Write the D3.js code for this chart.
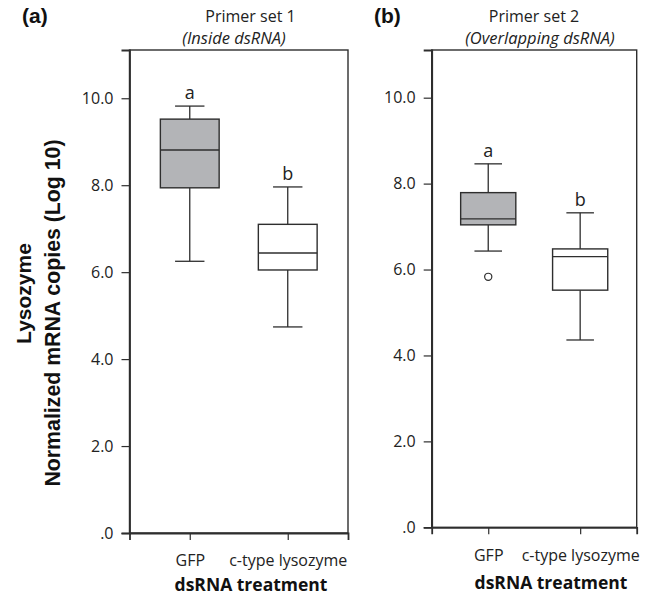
<!DOCTYPE html>
<html><head><meta charset="utf-8">
<script src="https://cdn.jsdelivr.net/npm/d3@7"></script>
<style>
html,body{margin:0;padding:0;background:#fff;}
svg{display:block;}
</style></head>
<body>
<svg id="chart" width="659" height="595"></svg>
<script>
// ---- data ----
const categories = ["GFP", "c-type lysozyme"];
const yTicks = [0, 2, 4, 6, 8, 10];
const yMax = 11.11;
// Panel (a) Primer set 1
const aMin    = [6.25, 4.74];
const aQ1     = [7.94, 6.05];
const aMedian = [8.81, 6.44];
const aQ3     = [9.52, 7.10];
const aMax    = [9.82, 7.96];
const aLetters = ["a", "b"];
const aOutlierCats = [];
const aOutlierVals = [];
// Panel (b) Primer set 2
const bMin    = [6.43, 4.36];
const bQ1     = [7.04, 5.52];
const bMedian = [7.18, 6.30];
const bQ3     = [7.79, 6.48];
const bMax    = [8.46, 7.32];
const bLetters = ["a", "b"];
const bOutlierCats = ["GFP"];
const bOutlierVals = [5.83];
const fills = ["#b3b4b7", "#ffffff"];

const svg = d3.select("#chart");
const FONT = "'Open Sans', sans-serif";
const LINE = "#2e2e2e";

function panel(cfg) {
  const x = d3.scalePoint().domain(categories).range([cfg.left, cfg.right]).padding(0.615);
  const y = d3.scaleLinear().domain([0, yMax]).range([cfg.bottom, cfg.top]);
  const step = x.step();
  const bw = step * 0.6, cw = step * 0.3;
  const g = svg.append("g");

  // frame
  g.append("rect").attr("x", cfg.left).attr("y", cfg.top)
    .attr("width", cfg.right - cfg.left).attr("height", cfg.bottom - cfg.top)
    .attr("fill", "none").attr("stroke", LINE).attr("stroke-width", 1.4);

  // y axis
  const yAxis = d3.axisLeft(y).tickValues(yTicks).tickSize(8).tickPadding(8)
    .tickFormat(d => d === 0 ? ".0" : d.toFixed(1));
  const ya = g.append("g").attr("transform", `translate(${cfg.left},0)`).call(yAxis);
  ya.select(".domain").attr("stroke", LINE).attr("stroke-width", 1.8);
  ya.selectAll(".tick line").attr("stroke", LINE).attr("stroke-width", 1.2);
  ya.selectAll(".tick text").attr("font-family", FONT).attr("font-size", 16).attr("fill", "#222");

  // x axis
  const xAxis = d3.axisBottom(x).tickSize(7).tickPadding(15);
  const xa = g.append("g").attr("transform", `translate(0,${cfg.bottom})`).call(xAxis);
  xa.select(".domain").attr("stroke", LINE).attr("stroke-width", 1.8);
  xa.selectAll(".tick line").attr("stroke", LINE).attr("stroke-width", 1.2);
  xa.selectAll(".tick text").attr("font-family", FONT).attr("font-size", 16).attr("fill", "#222");

  const d = categories.map((c, i) => ({c, i, min: cfg.min[i], q1: cfg.q1[i], med: cfg.med[i], q3: cfg.q3[i], max: cfg.max[i], letter: cfg.letters[i]}));
  const bx = g.selectAll(".bx").data(d).enter().append("g");
  // whiskers
  bx.append("line").attr("x1", e => x(e.c)).attr("x2", e => x(e.c))
    .attr("y1", e => y(e.max)).attr("y2", e => y(e.q3)).attr("stroke", LINE).attr("stroke-width", 1.3);
  bx.append("line").attr("x1", e => x(e.c)).attr("x2", e => x(e.c))
    .attr("y1", e => y(e.q1)).attr("y2", e => y(e.min)).attr("stroke", LINE).attr("stroke-width", 1.3);
  bx.append("line").attr("x1", e => x(e.c) - cw / 2).attr("x2", e => x(e.c) + cw / 2)
    .attr("y1", e => y(e.max)).attr("y2", e => y(e.max)).attr("stroke", LINE).attr("stroke-width", 1.3);
  bx.append("line").attr("x1", e => x(e.c) - cw / 2).attr("x2", e => x(e.c) + cw / 2)
    .attr("y1", e => y(e.min)).attr("y2", e => y(e.min)).attr("stroke", LINE).attr("stroke-width", 1.3);
  // box
  bx.append("rect").attr("x", e => x(e.c) - bw / 2).attr("width", bw)
    .attr("y", e => y(e.q3)).attr("height", e => y(e.q1) - y(e.q3))
    .attr("fill", e => fills[e.i]).attr("stroke", LINE).attr("stroke-width", 1.4);
  bx.append("line").attr("x1", e => x(e.c) - bw / 2).attr("x2", e => x(e.c) + bw / 2)
    .attr("y1", e => y(e.med)).attr("y2", e => y(e.med)).attr("stroke", LINE).attr("stroke-width", 1.4);
  // letters
  bx.append("text").attr("x", e => x(e.c)).attr("y", e => y(e.max) - 7)
    .attr("text-anchor", "middle").attr("font-family", FONT).attr("font-size", 18).attr("fill", "#222")
    .text(e => e.letter);
  // outliers
  g.selectAll(".out").data(cfg.outCats.map((c, i) => ({c, v: cfg.outVals[i]}))).enter()
    .append("circle").attr("cx", e => x(e.c)).attr("cy", e => y(e.v)).attr("r", 3.6)
    .attr("fill", "#fff").attr("stroke", LINE).attr("stroke-width", 1.2);

  // titles
  g.append("text").attr("x", cfg.tagX).attr("y", 23).attr("font-family", "'Liberation Sans', Arial, sans-serif")
    .attr("font-weight", "bold").attr("font-size", 21).attr("fill", "#111").text(cfg.tag);
  g.append("text").attr("x", cfg.t1X).attr("y", 22).attr("text-anchor", "middle")
    .attr("font-family", FONT).attr("font-size", 16).attr("fill", "#222").text(cfg.title1);
  g.append("text").attr("x", cfg.t2X).attr("y", 44).attr("text-anchor", "middle")
    .attr("font-family", FONT).attr("font-style", "italic").attr("font-size", 16.5).attr("fill", "#222").text(cfg.title2);
  g.append("text").attr("x", cfg.xlX).attr("y", cfg.xlY).attr("text-anchor", "middle")
    .attr("font-family", FONT).attr("font-weight", "bold").attr("font-size", 17.5).attr("fill", "#111").text("dsRNA treatment");
}

panel({left: 129.5, right: 348, top: 50, bottom: 533,
  min: aMin, q1: aQ1, med: aMedian, q3: aQ3, max: aMax, letters: aLetters,
  outCats: aOutlierCats, outVals: aOutlierVals,
  tag: "(a)", tagX: 22, title1: "Primer set 1", t1X: 250.5, title2: "(Inside dsRNA)", t2X: 234,
  xlX: 251, xlY: 591});
panel({left: 431.7, right: 636.7, top: 50, bottom: 527.3,
  min: bMin, q1: bQ1, med: bMedian, q3: bQ3, max: bMax, letters: bLetters,
  outCats: bOutlierCats, outVals: bOutlierVals,
  tag: "(b)", tagX: 374, title1: "Primer set 2", t1X: 534, title2: "(Overlapping dsRNA)", t2X: 540,
  xlX: 551, xlY: 589});

// y label
svg.append("text").attr("transform", "translate(31,293.5) rotate(-90)").attr("text-anchor", "middle")
  .attr("font-family", "'Liberation Sans', Arial, sans-serif").attr("font-weight", "bold").attr("font-size", 21)
  .attr("fill", "#111").text("Lysozyme");
svg.append("text").attr("transform", "translate(60,313) rotate(-90)").attr("text-anchor", "middle")
  .attr("font-family", "'Liberation Sans', Arial, sans-serif").attr("font-weight", "bold").attr("font-size", 21.3)
  .attr("fill", "#111").text("Normalized mRNA copies (Log 10)");
</script>
</body></html>
